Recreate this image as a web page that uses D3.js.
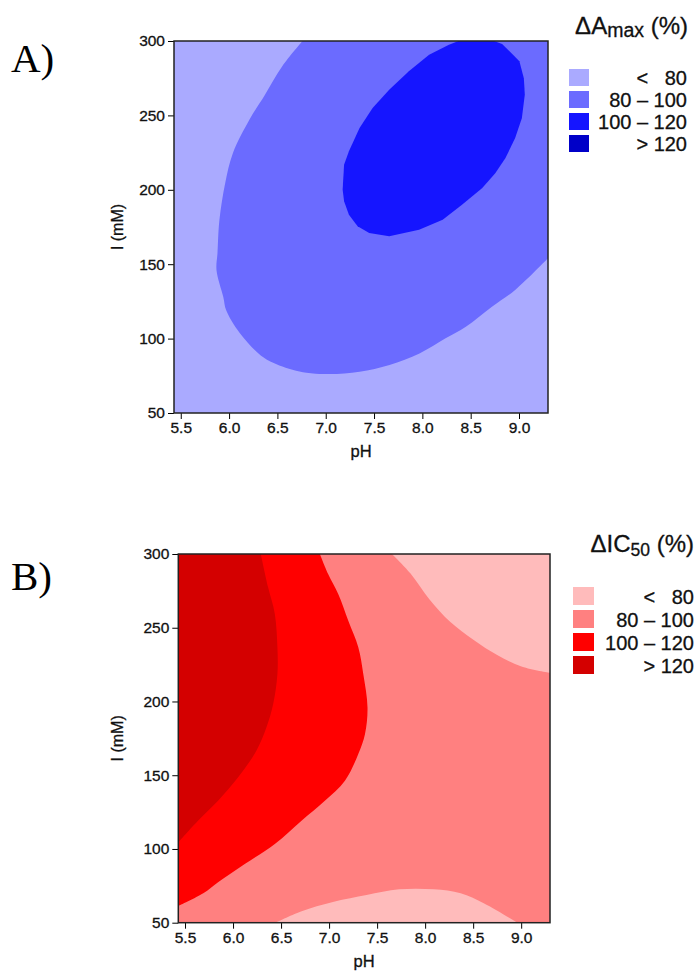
<!DOCTYPE html>
<html>
<head>
<meta charset="utf-8">
<script src="https://cdn.jsdelivr.net/npm/d3@7"></script>
<style>
body { margin: 0; background: #fff; }
svg { display: block; }
</style>
</head>
<body>
<svg width="697" height="974"></svg>
<script>
const phDomain = [5.43, 9.30];
const ionDomain = [50, 300];
const phTicks = [5.5, 6.0, 6.5, 7.0, 7.5, 8.0, 8.5, 9.0];
const ionTicks = [50, 100, 150, 200, 250, 300];
const levelLabels = ["<   80", "80 \u2013 100", "100 \u2013 120", "> 120"];
const blues = ["#aaaaff", "#6b6bff", "#1515ff", "#0000c8"];
const reds = ["#ffbbbb", "#ff8080", "#ff0000", "#d40000"];

// panel A contour lines, [pH, I]
const a80 = [[6.76, 300], [6.55, 283], [6.37, 263.7], [6.21, 247], [6.04, 224.7], [5.96, 204.6],
  [5.90, 179.7], [5.88, 157.5], [5.87, 146], [5.94, 128], [5.97, 119], [6.11, 103.8], [6.35, 87.6],
  [6.52, 82], [6.80, 77], [7.04, 76.2], [7.35, 77.8], [7.66, 82.3], [7.97, 90], [8.24, 100.2],
  [8.45, 108], [8.72, 121.4], [8.96, 132.7], [9.30, 154]];
const a100 = [[8.41, 300.9], [8.70, 301], [8.825, 298], [8.92, 292], [9.004, 286.4], [9.05, 275],
  [9.06, 264], [9.03, 248.3], [8.96, 234.8], [8.86, 221.4], [8.756, 211.3], [8.62, 201.2], [8.41, 190],
  [8.21, 179.9], [7.966, 173.2], [7.657, 168.7], [7.45, 171], [7.33, 175.5], [7.24, 183.3], [7.19, 192.3],
  [7.175, 200], [7.19, 216.9], [7.24, 225.9], [7.35, 241.5], [7.485, 255], [7.657, 267.3], [7.86, 279.6],
  [8.07, 290.8], [8.275, 297.5]];

// panel B contour lines
const b80top = [[7.655, 300], [7.846, 286.9], [8.05, 268.8], [8.26, 254], [8.506, 241.7],
  [8.75, 231.5], [9.01, 223.6], [9.30, 219.5]];
const b80bottom = [[6.44, 50], [6.70, 57.5], [7.05, 64.2], [7.39, 68.8], [7.73, 72.6], [8.09, 72.6],
  [8.37, 69.9], [8.61, 63.2], [8.96, 50]];
const b100 = [[6.904, 300], [6.99, 286.4], [7.095, 272.8], [7.20, 254.7], [7.304, 236.7], [7.356, 218.6],
  [7.40, 196], [7.374, 178], [7.304, 164.4], [7.165, 146.3], [6.956, 132.7], [6.713, 119.2],
  [6.435, 103.4], [6.122, 89.8], [5.844, 77.4], [5.69, 69.9], [5.43, 61.3]];
const b120 = [[6.289, 300], [6.365, 277.4], [6.435, 259.3], [6.462, 236.7], [6.462, 218.6], [6.418, 198.3],
  [6.348, 182.5], [6.243, 166.6], [6.053, 148.6], [5.844, 132.7], [5.635, 119.2], [5.43, 104.5]];

const sans = "'Liberation Sans', Arial, Helvetica, sans-serif";
const serif = "'Liberation Serif', 'Times New Roman', serif";

const svg = d3.select("svg");

const panels = [
  {
    letter: "A)", letterY: 72,
    box: {left: 174, right: 548, top: 41, bottom: 413},
    colors: blues, base: 0,
    regions: [
      {line: a80, corners: [[9.30, 300]], level: 1},
      {line: a100, closed: true, level: 2}
    ],
    title: ["\u0394A", "max", " (%)"], titleX: 688, titleY: 34, subSize: 19.5, subDy: 2.5,
    legend: {x: 569, y: 69, w: 20, h: 17, step: 22, textX: 687, size: 20}
  },
  {
    letter: "B)", letterY: 590,
    box: {left: 178.3, right: 550, top: 554, bottom: 922.7},
    colors: reds, base: 1,
    regions: [
      {line: b80top, corners: [[9.30, 300]], level: 0},
      {line: b80bottom, corners: [], level: 0},
      {line: b100, corners: [[5.43, 300]], level: 2},
      {line: b120, corners: [[5.43, 300]], level: 3}
    ],
    title: ["\u0394IC", "50", " (%)"], titleX: 694, titleY: 552, subSize: 17.5, subDy: 4.4,
    legend: {x: 573, y: 587, w: 21, h: 18, step: 23, textX: 694, size: 20}
  }
];

// slightly heavier sans text, like the original rendering
const heavy = sel => sel.style("font-family", sans).attr("fill", "#111")
  .attr("stroke", "#111").attr("stroke-width", 0.3);

panels.forEach((p, i) => {
  const b = p.box;
  const x = d3.scaleLinear().domain(phDomain).range([b.left, b.right]);
  const y = d3.scaleLinear().domain(ionDomain).range([b.bottom, b.top]);
  const g = svg.append("g");

  const clipId = "clip" + i;
  svg.append("clipPath").attr("id", clipId)
    .append("rect")
    .attr("x", b.left).attr("y", b.top)
    .attr("width", b.right - b.left).attr("height", b.bottom - b.top);

  const plot = g.append("g").attr("clip-path", `url(#${clipId})`);
  plot.append("rect")
    .attr("x", b.left).attr("y", b.top)
    .attr("width", b.right - b.left).attr("height", b.bottom - b.top)
    .attr("fill", p.colors[p.base]);

  const line = d3.line().x(d => x(d[0])).y(d => y(d[1]));

  p.regions.forEach(r => {
    let d;
    if (r.closed) {
      d = line.curve(d3.curveLinearClosed)(r.line);
    } else {
      d = line.curve(d3.curveCatmullRom)(r.line)
        + r.corners.map(c => `L${x(c[0])},${y(c[1])}`).join("") + "Z";
    }
    plot.append("path").attr("d", d).attr("fill", p.colors[r.level]);
  });

  // axes
  const styleTicks = a => a.selectAll("text").call(heavy).style("font-size", "15.5px");
  g.append("g")
    .attr("transform", `translate(${b.left},0)`)
    .call(d3.axisLeft(y).tickValues(ionTicks).tickSize(6).tickSizeOuter(0).tickPadding(3))
    .call(styleTicks);
  g.append("g")
    .attr("transform", `translate(0,${b.bottom})`)
    .call(d3.axisBottom(x).tickValues(phTicks).tickFormat(d3.format(".1f")).tickSize(6).tickSizeOuter(0).tickPadding(3))
    .call(styleTicks);
  g.selectAll(".domain").remove();

  g.append("rect")
    .attr("x", b.left).attr("y", b.top)
    .attr("width", b.right - b.left).attr("height", b.bottom - b.top)
    .attr("fill", "none").attr("stroke", "#222").attr("stroke-width", 1.5);

  g.append("text")
    .attr("x", (b.left + b.right) / 2).attr("y", b.bottom + 44)
    .attr("text-anchor", "middle")
    .call(heavy).style("font-size", "16.5px")
    .text("pH");
  g.append("text")
    .attr("transform", `translate(123,${(b.top + b.bottom) / 2}) rotate(-90)`)
    .attr("text-anchor", "middle")
    .call(heavy).style("font-size", "16px")
    .text("I (mM)");

  g.append("text")
    .attr("x", 11).attr("y", p.letterY)
    .style("font-family", serif).style("font-size", "41px")
    .text(p.letter);

  // legend
  const t = g.append("text")
    .attr("x", p.titleX).attr("y", p.titleY)
    .attr("text-anchor", "end")
    .call(heavy).style("font-size", "24px");
  t.append("tspan").text(p.title[0]);
  t.append("tspan").style("font-size", p.subSize + "px").attr("dy", p.subDy).text(p.title[1]);
  t.append("tspan").attr("dy", -p.subDy).text(p.title[2]);

  const L = p.legend;
  const rows = g.append("g").selectAll("g")
    .data(levelLabels)
    .join("g")
    .attr("transform", (d, k) => `translate(0,${L.y + k * L.step})`);
  rows.append("rect")
    .attr("x", L.x).attr("y", 0)
    .attr("width", L.w).attr("height", L.h)
    .attr("fill", (d, k) => p.colors[k]);
  rows.append("text")
    .attr("x", L.textX).attr("y", L.h - 1)
    .attr("text-anchor", "end")
    .call(heavy).style("font-size", L.size + "px")
    .style("white-space", "pre")
    .text(d => d);
});
</script>
</body>
</html>
